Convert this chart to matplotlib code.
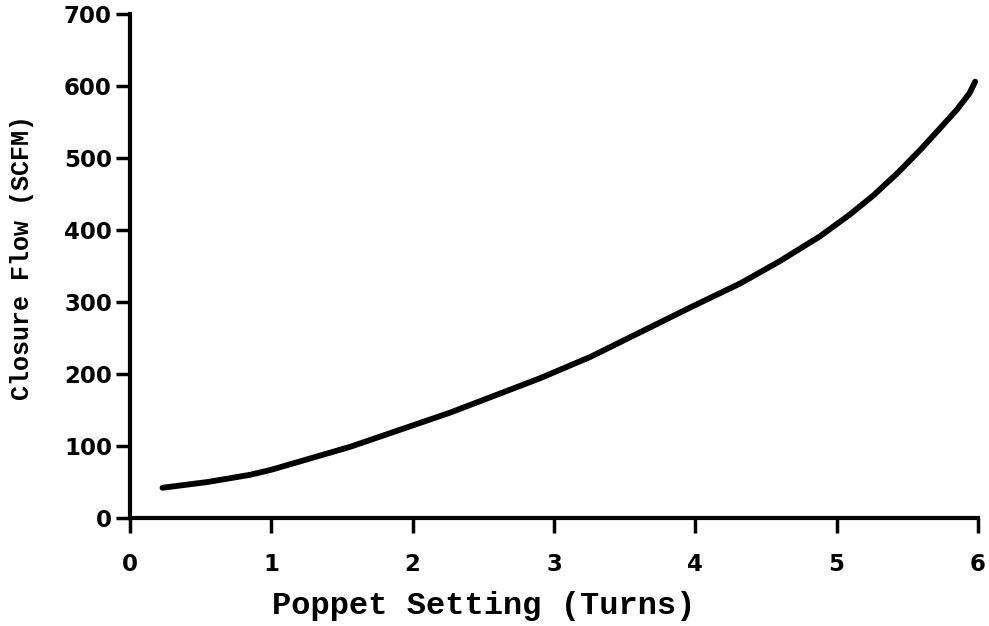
import matplotlib
matplotlib.use("Agg")
import matplotlib.pyplot as plt

# Data
turns = [0.23, 0.55, 0.85, 1.00, 1.56, 2.26, 2.90, 3.26, 3.61, 3.96, 4.32, 4.60, 4.88,
         5.09, 5.26, 5.43, 5.59, 5.73, 5.85, 5.94, 5.98]
flow = [42, 50, 60, 67, 99, 146, 194, 224, 258, 292, 326, 357, 391,
        421, 448, 479, 511, 541, 567, 590, 606]

x_ticks = [0, 1, 2, 3, 4, 5, 6]
y_ticks = [0, 100, 200, 300, 400, 500, 600, 700]

x_label = "Poppet Setting (Turns)"
y_label = "Closure Flow (SCFM)"

fig = plt.figure(figsize=(9.89, 6.26), dpi=100)
ax = fig.add_axes([130 / 989, 1 - 518 / 626, (978 - 130) / 989, (518 - 14) / 626])

ax.plot(turns, flow, color="black", linewidth=4.2, solid_capstyle="round", solid_joinstyle="round")

ax.set_xlim(0, 6)
ax.set_ylim(0, 700)
ax.set_xticks(x_ticks)
ax.set_yticks(y_ticks)

for s in ["top", "right"]:
    ax.spines[s].set_visible(False)
for s in ["left", "bottom"]:
    ax.spines[s].set_linewidth(3)
    ax.spines[s].set_capstyle("projecting")

ax.tick_params(axis="x", direction="out", length=11, width=2.5, pad=14)
ax.tick_params(axis="y", direction="out", length=10, width=2.5, pad=3)
for lab in ax.get_xticklabels() + ax.get_yticklabels():
    lab.set_fontfamily("DejaVu Sans")
    lab.set_fontweight("bold")
    lab.set_fontsize(16.5)

fig.text(484 / 989, 1 - 606 / 626, x_label, ha="center", va="center",
         fontfamily="Liberation Mono", fontweight="bold", fontsize=23)
fig.text(22 / 989, 1 - 258 / 626, y_label, ha="center", va="center", rotation=90,
         fontfamily="Liberation Mono", fontweight="bold", fontsize=18)

fig.savefig("out.png", dpi=100, facecolor="white")
